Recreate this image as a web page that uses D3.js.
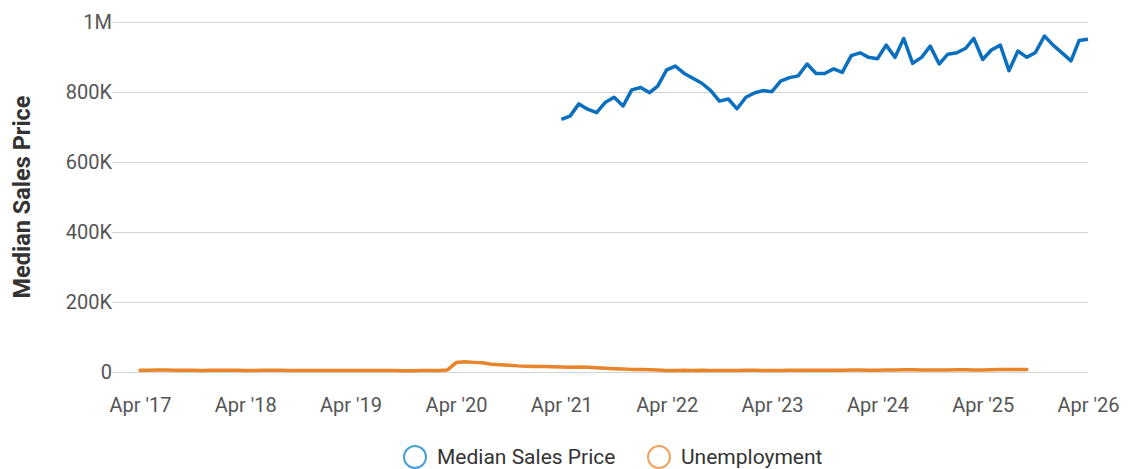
<!DOCTYPE html>
<html>
<head>
<meta charset="utf-8">
<script src="https://cdn.jsdelivr.net/npm/d3@7"></script>
<style>
  body { margin: 0; background: #fff; font-family: Roboto, "Noto Sans", sans-serif; }
  .grid line { stroke: #d3d3d3; stroke-width: 1; }
  .tick text { fill: #555; font-size: 20px; font-family: Roboto, sans-serif; }
</style>
</head>
<body>
<svg width="1135" height="469"></svg>
<script>
// monthly values
var priceStart = new Date(2021, 3, 1);   // Apr 2021
var priceValues = [
  722000, 731000, 766000, 751000, 741000, 771000, 785000, 760000, 806000,
  813000, 798000, 817000, 863000, 874000, 853000, 839000, 825000, 804000, 774000, 780000, 752000,
  785000, 798000, 804000, 801000, 831000, 841000, 846000, 880000, 853000, 853000, 866000, 856000,
  904000, 912000, 899000, 895000, 934000, 899000, 953000, 882000, 899000, 931000, 880000, 908000,
  912000, 925000, 953000, 893000, 920000, 934000, 861000, 917000, 899000, 913000, 960000, 934000,
  912000, 889000, 947000, 951000
];

var unempStart = new Date(2017, 3, 1);   // Apr 2017
var unempValues = [
  5200, 5000, 5400, 5600, 5300, 4900, 4700, 4600, 4800,
  5000, 4900, 4700, 4500, 4400, 4800, 5000, 4800, 4500, 4300, 4200, 4400,
  4600, 4500, 4300, 4100, 4000, 4400, 4600, 4400, 4100, 3900, 3800, 4000,
  4300, 4200, 5500, 27000, 29000, 27500, 26500, 22000, 21000, 19500, 17500, 16500,
  16000, 15500, 15000, 14000, 13500, 14000, 13500, 12000, 10500, 9500, 8500, 7500,
  7500, 6500, 5500, 4500, 4300, 4800, 4600, 4700, 4200, 4300, 4400, 4300,
  4900, 4800, 4500, 4200, 4600, 5100, 5300, 5200, 5000, 5100, 5200, 5000,
  5600, 5500, 5200, 5000, 5400, 6000, 6300, 6200, 5900, 5800, 5900, 5800,
  6300, 6200, 5900, 5700, 6100, 6800, 7200, 7000, 6800
];

var yTicks = [0, 200000, 400000, 600000, 800000, 1000000];
var yTickLabels = ["0", "200K", "400K", "600K", "800K", "1M"];
var seriesNames = ["Median Sales Price", "Unemployment"];
var lineColors = ["#0a6fbf", "#e8842a"];
var legendColors = ["#4a9fd8", "#f0a35e"];

var price = priceValues.map(function(v, i) { return {date: d3.timeMonth.offset(priceStart, i), value: v}; });
var unemp = unempValues.map(function(v, i) { return {date: d3.timeMonth.offset(unempStart, i), value: v}; });

var svg = d3.select("svg");
var gridLeft = 112, plotRight = 1088;

var x = d3.scaleTime()
    .domain([new Date(2017, 3, 1), new Date(2026, 3, 1)])
    .range([140, plotRight]);

var y = d3.scaleLinear()
    .domain([0, 1000000])
    .range([372, 22]);

// gridlines
svg.append("g")
    .attr("class", "grid")
    .selectAll("line")
    .data(yTicks)
    .enter()
    .append("line")
    .attr("x1", gridLeft)
    .attr("x2", plotRight)
    .attr("y1", function(d) { return y(d) + 0.5; })
    .attr("y2", function(d) { return y(d) + 0.5; });

// y axis
var yAxis = d3.axisLeft(y)
    .tickValues(yTicks)
    .tickSize(0)
    .tickPadding(0)
    .tickFormat(function(d, i) { return yTickLabels[i]; });

svg.append("g")
    .attr("transform", "translate(" + gridLeft + ",0)")
    .call(yAxis)
    .call(function(g) { g.select(".domain").remove(); });

// x axis
var xAxis = d3.axisBottom(x)
    .tickValues(d3.range(2017, 2027).map(function(yr) { return new Date(yr, 3, 1); }))
    .tickSize(0)
    .tickPadding(0)
    .tickFormat(function(d) { return "Apr '" + d3.timeFormat("%y")(d); });

svg.append("g")
    .attr("transform", "translate(0,398)")
    .call(xAxis)
    .call(function(g) { g.select(".domain").remove(); });

// y axis title
svg.append("text")
    .attr("transform", "translate(30,197) rotate(-90)")
    .attr("text-anchor", "middle")
    .style("font-size", "23.5px")
    .style("font-weight", "bold")
    .style("fill", "#333")
    .text("Median Sales Price");

var line = d3.line()
    .x(function(d) { return x(d.date); })
    .y(function(d) { return y(d.value); });

svg.append("path")
    .datum(unemp)
    .attr("fill", "none")
    .attr("stroke", lineColors[1])
    .attr("stroke-width", 3.5)
    .attr("stroke-linejoin", "round")
    .attr("stroke-linecap", "round")
    .attr("d", line);

svg.append("path")
    .datum(price)
    .attr("fill", "none")
    .attr("stroke", lineColors[0])
    .attr("stroke-width", 3.5)
    .attr("stroke-linejoin", "round")
    .attr("d", line);

// legend
var legendX = [415, 659];
var legend = svg.append("g").attr("class", "legend");

legend.selectAll("circle")
    .data(seriesNames)
    .enter()
    .append("circle")
    .attr("cx", function(d, i) { return legendX[i]; })
    .attr("cy", 457)
    .attr("r", 11)
    .attr("fill", "none")
    .attr("stroke", function(d, i) { return legendColors[i]; })
    .attr("stroke-width", 2);

legend.selectAll("text")
    .data(seriesNames)
    .enter()
    .append("text")
    .attr("x", function(d, i) { return legendX[i] + 22; })
    .attr("y", 457)
    .attr("dy", ".35em")
    .style("font-size", "21px")
    .style("fill", "#333")
    .text(function(d) { return d; });
</script>
</body>
</html>
